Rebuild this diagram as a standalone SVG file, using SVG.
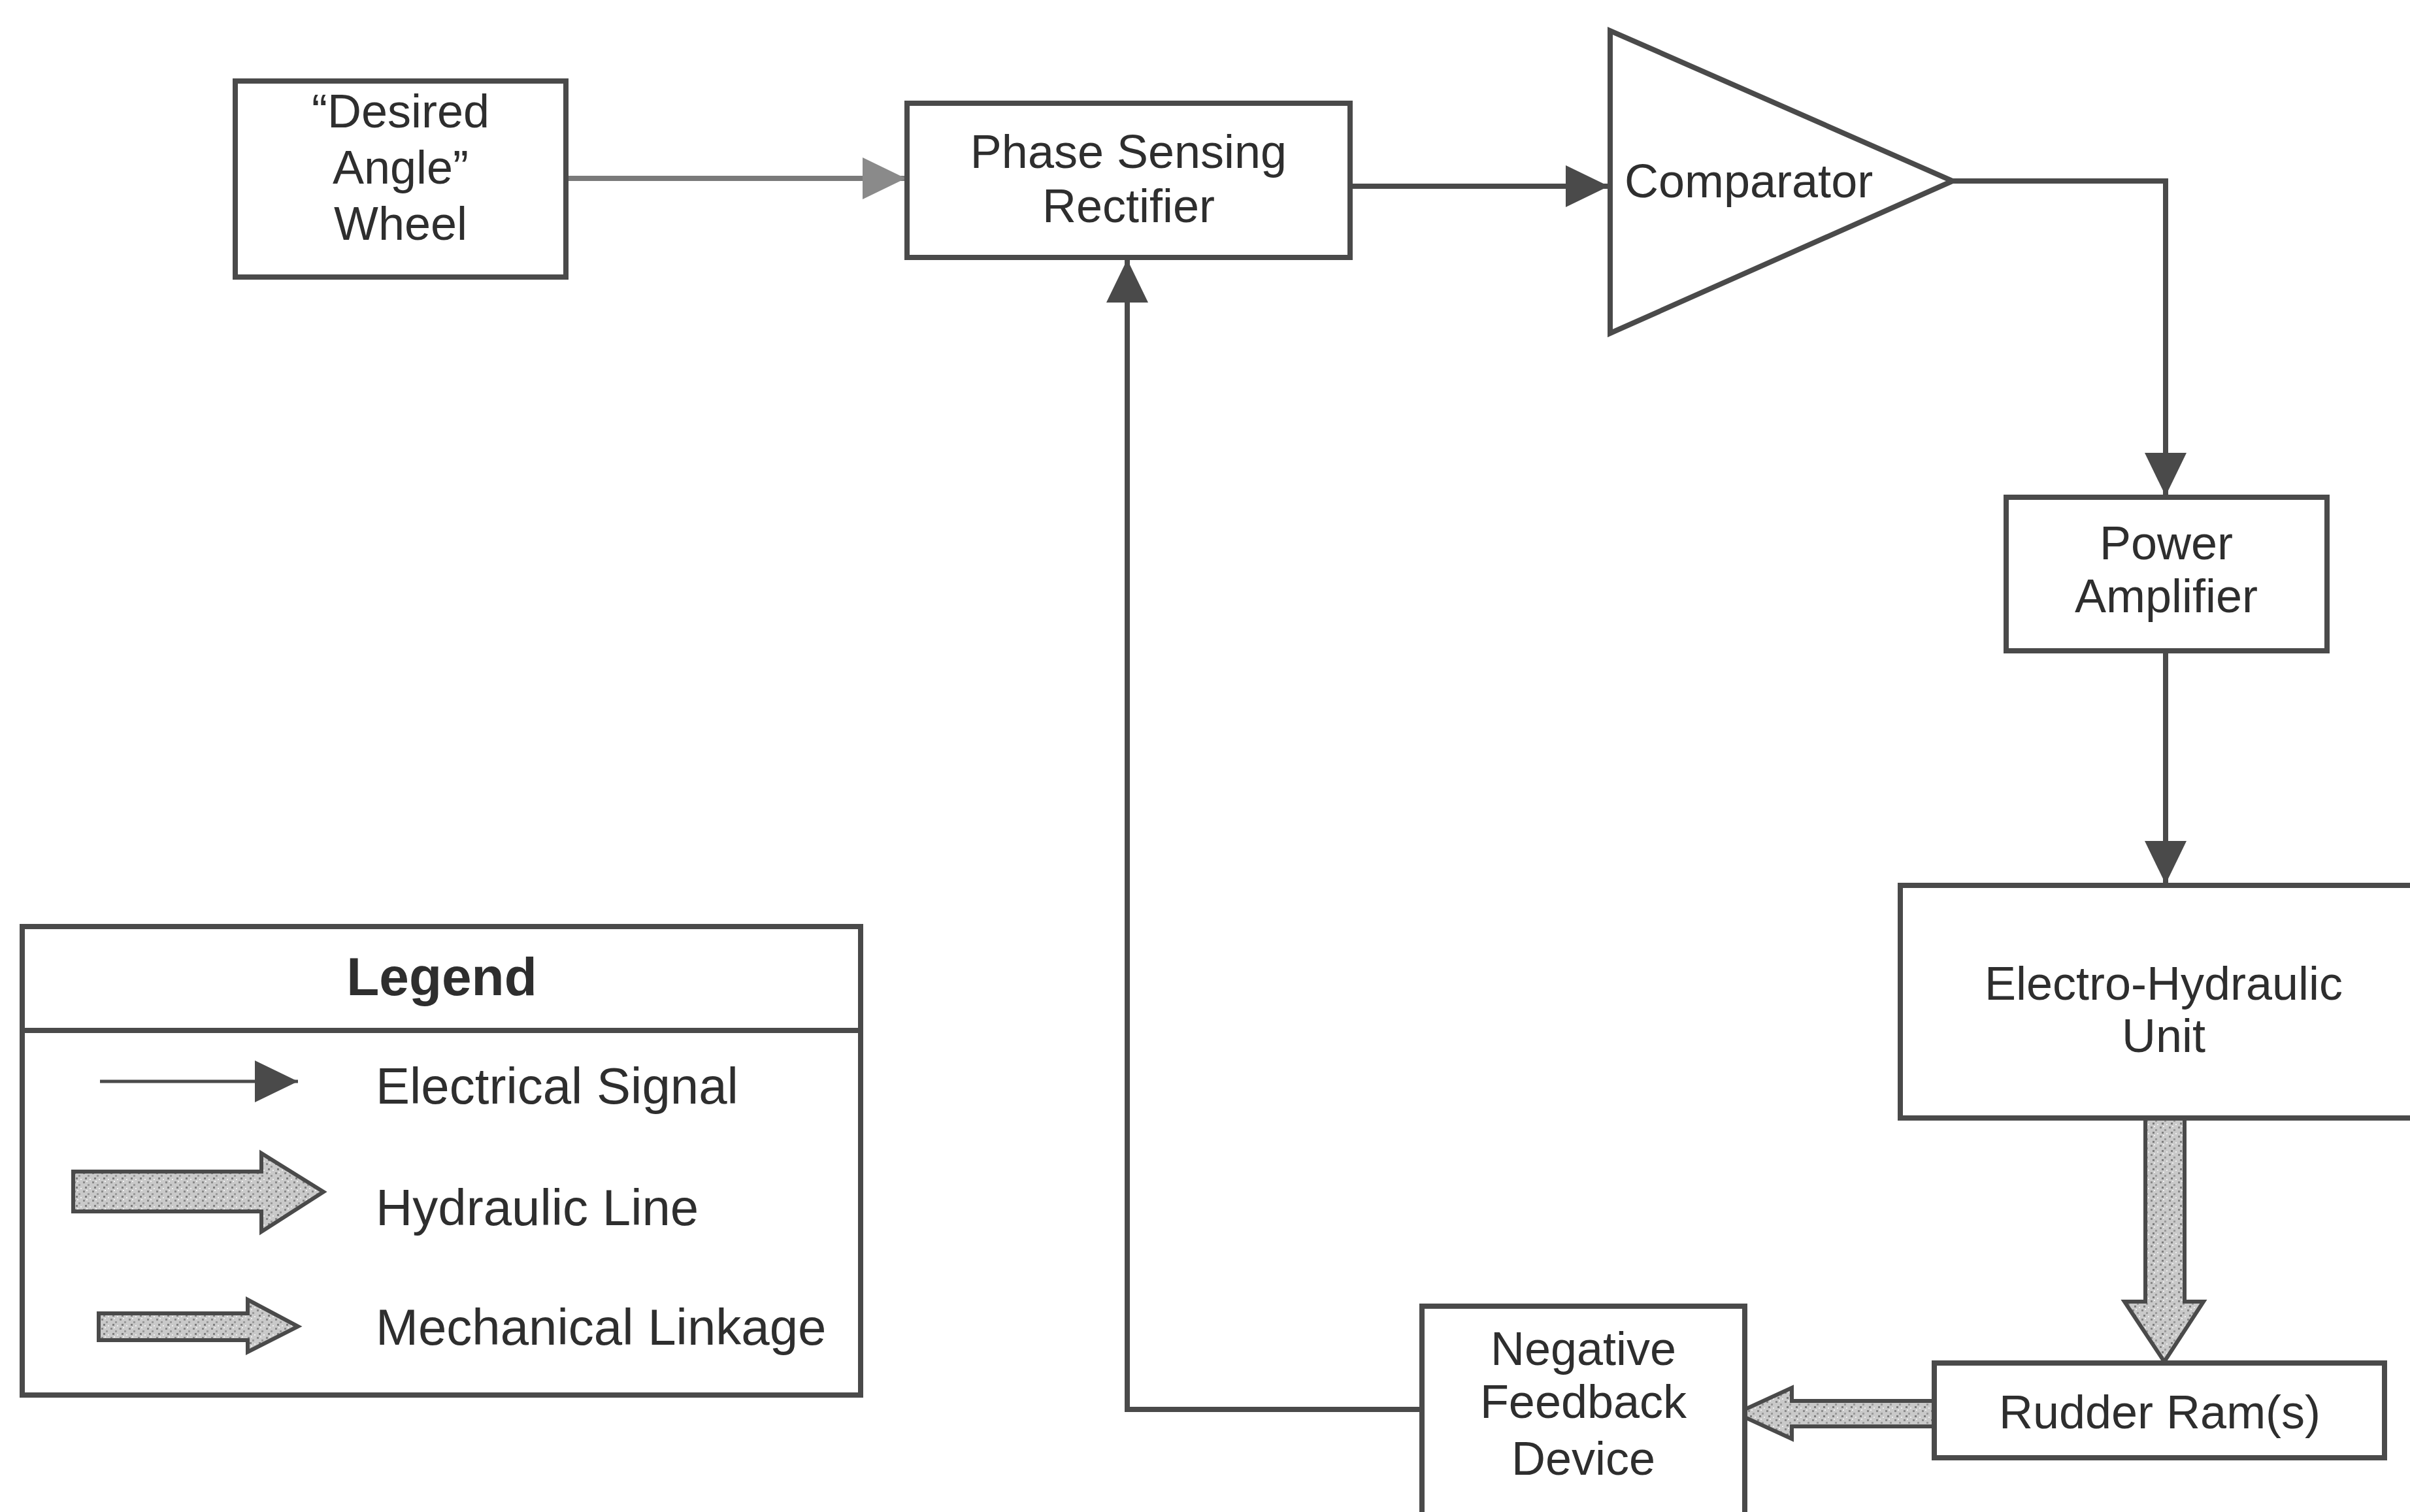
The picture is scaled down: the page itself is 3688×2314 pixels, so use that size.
<svg xmlns="http://www.w3.org/2000/svg" width="3688" height="2314" viewBox="0 0 3688 2314">
<defs>
<style>
.box{fill:#fff;stroke:#4a4a4a;stroke-width:8}
.wire{fill:none;stroke:#4a4a4a;stroke-width:8}
.t{font-family:"Liberation Sans",Arial,sans-serif;font-size:72px;fill:#2e2e2e;text-anchor:middle}
.lt{font-family:"Liberation Sans",Arial,sans-serif;font-size:78px;fill:#2e2e2e}
.fat{fill:url(#stip);stroke:#4a4a4a;stroke-width:6;stroke-linejoin:miter}
</style>
<pattern id="stip" width="14" height="14" patternUnits="userSpaceOnUse">
<rect width="14" height="14" fill="#c9c9c9"/>
<rect x="1" y="2" width="3" height="3" fill="#8a8a8a"/>
<rect x="8" y="6" width="3" height="3" fill="#9a9a9a"/>
<rect x="4" y="10" width="3" height="3" fill="#7e7e7e"/>
<rect x="11" y="12" width="2" height="2" fill="#eee"/>
<rect x="6" y="1" width="2" height="2" fill="#eee"/>
</pattern>
<marker id="ah" markerUnits="userSpaceOnUse" markerWidth="66" markerHeight="64" refX="66" refY="32" orient="auto">
<path d="M0,0 L66,32 L0,64 z" fill="#4a4a4a"/>
</marker>
<marker id="ahl" markerUnits="userSpaceOnUse" markerWidth="66" markerHeight="64" refX="66" refY="32" orient="auto">
<path d="M0,0 L66,32 L0,64 z" fill="#8a8a8a"/>
</marker>
</defs>
<rect width="3688" height="2314" fill="#fff"/>

<g id="connectors">
<path class="wire" d="M867,273 H1386" style="stroke:#7a7a7a" marker-end="url(#ahl)"/>
<path class="wire" d="M2066,285 H2462" marker-end="url(#ah)"/>
<path class="wire" d="M2988,277 H3314 V759" marker-end="url(#ah)"/>
<path class="wire" d="M3314,996 V1353" marker-end="url(#ah)"/>
<path class="wire" d="M2176,2157 H1725 V397" marker-end="url(#ah)"/>
<polygon id="hydraulic-arrow" class="fat" points="3283,1711 3343,1711 3343,1992 3372,1992 3312,2084 3251,1992 3283,1992"/>
<polygon id="mechanical-arrow" class="fat" points="2960,2144 2742,2144 2742,2124 2657,2163 2742,2202 2742,2183 2960,2183"/>
</g>

<g id="wheel">
<rect class="box" x="360" y="124" width="506" height="300"/>
<text class="t" x="613" y="195">“Desired</text>
<text class="t" x="613" y="281">Angle”</text>
<text class="t" x="613" y="367">Wheel</text>
</g>

<g id="psr">
<rect class="box" x="1388" y="158" width="678" height="236"/>
<text class="t" x="1727" y="257">Phase Sensing</text>
<text class="t" x="1727" y="340">Rectifier</text>
</g>

<g id="comparator">
<polygon class="box" points="2464,47 2464,510 2988,277"/>
<text class="t" x="2486" y="302" style="text-anchor:start">Comparator</text>
</g>

<g id="power-amplifier">
<rect class="box" x="3070" y="761" width="491" height="235"/>
<text class="t" x="3315" y="856">Power</text>
<text class="t" x="3315" y="937">Amplifier</text>
</g>

<g id="electro-hydraulic">
<rect class="box" x="2908" y="1355" width="800" height="356"/>
<text class="t" x="3311" y="1530">Electro-Hydraulic</text>
<text class="t" x="3311" y="1610">Unit</text>
</g>

<g id="rudder-ram">
<rect class="box" x="2960" y="2086" width="689" height="145"/>
<text class="t" x="3305" y="2186">Rudder Ram(s)</text>
</g>

<g id="negative-feedback">
<rect class="box" x="2176" y="1999" width="494" height="340"/>
<text class="t" x="2423" y="2089">Negative</text>
<text class="t" x="2423" y="2170">Feedback</text>
<text class="t" x="2423" y="2257">Device</text>
</g>

<g id="legend">
<rect class="box" x="34" y="1418" width="1283" height="717"/>
<line x1="34" y1="1577" x2="1317" y2="1577" stroke="#4a4a4a" stroke-width="8"/>
<text class="t" x="676" y="1523" style="font-weight:bold;font-size:82px">Legend</text>
<path d="M153,1655 H456" fill="none" stroke="#4a4a4a" stroke-width="5" marker-end="url(#ah)"/>
<text class="lt" x="575" y="1689">Electrical Signal</text>
<polygon class="fat" points="112,1793 400,1793 400,1765 495,1824 400,1885 400,1854 112,1854"/>
<text class="lt" x="575" y="1875">Hydraulic Line</text>
<polygon class="fat" points="151,2010 379,2010 379,1989 456,2030 379,2069 379,2051 151,2051"/>
<text class="lt" x="575" y="2058">Mechanical Linkage</text>
</g>
</svg>
